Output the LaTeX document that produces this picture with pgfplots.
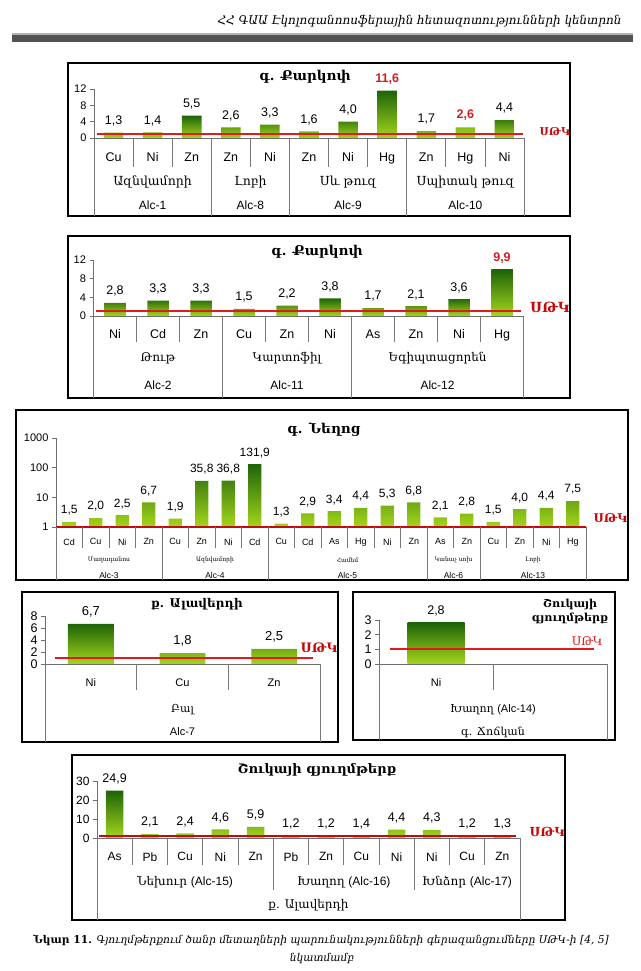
\documentclass[border=0pt]{standalone}
\usepackage{pgfplots}
\pgfplotsset{compat=1.18}
\usepackage{fontspec}
\setmainfont{Liberation Sans}
\newfontfamily\arm{DejaVu Serif}
\definecolor{bartop}{RGB}{30,100,8}
\definecolor{barbot}{RGB}{165,214,28}
\definecolor{mac}{RGB}{222,28,28}
\definecolor{macd}{RGB}{196,10,10}
\definecolor{hl}{RGB}{212,30,30}
\definecolor{axgray}{RGB}{110,110,110}
\definecolor{sepgray}{RGB}{120,120,120}
\newcommand{\fs}[1]{\fontsize{#1}{#1}\selectfont}
\tikzset{sep/.style={draw=sepgray, line width=0.7pt}}
% #1 left, #2 category width, #3 axis y, #4 length, #5 list of boundary indices
\newcommand{\seps}[5]{\foreach \j in {#5}{\draw[sep] ({(#1+\j*#2)*1pt},#3pt) -- ++(0pt,-#4pt);}}
\pgfplotsset{
  panel/.style={
    scale only axis, anchor=south west, clip=false,
    axis x line*=bottom, axis y line*=left,
    axis line style={draw=axgray, line width=0.8pt},
    xtick style={draw=none},
    ytick style={draw=axgray, line width=0.6pt},
    tick align=outside, major tick length=4pt,
    /pgf/number format/assume math mode=true,
    enlargelimits=false,
  },
  bars/.style={ybar, bar width=0.5, bar shift=0pt, draw=none,
    top color=bartop, bottom color=barbot,
    point meta=explicit symbolic, nodes near coords,
    nodes near coords style={anchor=south, yshift=3pt, text=black, font=\fs{#1}}},
  hlbars/.style={bars=#1, nodes near coords style={text=hl, font=\bfseries\fs{#1}}},
}
\begin{document}
\begin{tikzpicture}
\path[use as bounding box] (0pt,0pt) rectangle (640pt,971pt);
% header
\node[anchor=east, font=\arm\itshape\fs{12}] at (625pt,950pt) {ՀՀ ԳԱԱ Էկոլոգանոոսֆերային հետազոտությունների կենտրոն};
\fill[black!30] (12pt,938pt) rectangle (633pt,935.5pt);
\fill[black!68] (12pt,935.5pt) rectangle (633pt,929pt);

% ---------- panel 1
\draw[line width=1.2pt] (68pt,908pt) rectangle (570pt,755pt);
\node[font=\arm\bfseries\fs{13.5}] at (305pt,894pt) {գ. Քարկոփ};
\begin{axis}[panel, at={(94pt,833pt)}, width=430pt, height=49pt,
  xmin=-0.5, xmax=10.5, ymin=0, ymax=12, ytick={0,4,8,12},
  yticklabel style={font=\fs{11}},
  xtick={0,...,10}, xticklabels={Cu,Ni,Zn,Zn,Ni,Zn,Ni,Hg,Zn,Hg,Ni},
  xticklabel style={font=\fs{12.5}, yshift=-7pt}]
\addplot[bars=12.5] table[x=x,y=y,meta=lab,row sep=\\] {
x y lab\\ 0 1.3 1,3\\ 1 1.4 1,4\\ 2 5.5 5,5\\ 3 2.6 2,6\\ 4 3.3 3,3\\ 5 1.6 1,6\\ 6 4.0 4,0\\ 8 1.7 1,7\\ 10 4.4 4,4\\
};
\addplot[hlbars=12.5] table[x=x,y=y,meta=lab,row sep=\\] {
x y lab\\ 7 11.6 11,6\\ 9 2.6 2,6\\
};
\addplot[draw=mac, line width=2.5pt] coordinates {(-0.42,1) (10.47,1)};
\node[anchor=west, text=macd, font=\arm\bfseries\fs{10.8}, xshift=12pt, yshift=2pt] at (axis cs:10.5,1) {ՍԹԿ};
\end{axis}
\seps{94}{39.0909}{833}{29}{1,2,4,6,7,9,10}
\seps{94}{39.0909}{833}{78}{0,3,5,8,11}
\begin{scope}[every node/.style={font=\arm\fs{12.5}}]
\node at (152.6pt,789pt) {Ազնվամորի};
\node at (250.4pt,789pt) {Լոբի};
\node at (348.1pt,789pt) {Սև թուզ};
\node at (465.4pt,789pt) {Սպիտակ թուզ};
\end{scope}
\begin{scope}[every node/.style={font=\fs{12}}]
\node at (152.6pt,766pt) {Alc-1};
\node at (250.4pt,766pt) {Alc-8};
\node at (348.1pt,766pt) {Alc-9};
\node at (465.4pt,766pt) {Alc-10};
\end{scope}

% ---------- panel 2
\draw[line width=1.2pt] (68pt,735pt) rectangle (570pt,573pt);
\node[font=\arm\bfseries\fs{13.5}] at (317pt,719pt) {գ. Քարկոփ};
\begin{axis}[panel, at={(93.5pt,655pt)}, width=430pt, height=56pt,
  xmin=-0.5, xmax=9.5, ymin=0, ymax=12, ytick={0,4,8,12},
  yticklabel style={font=\fs{11}},
  xtick={0,...,9}, xticklabels={Ni,Cd,Zn,Cu,Zn,Ni,As,Zn,Ni,Hg},
  xticklabel style={font=\fs{12.5}, yshift=-6pt}]
\addplot[bars=12.5] table[x=x,y=y,meta=lab,row sep=\\] {
x y lab\\ 0 2.8 2,8\\ 1 3.3 3,3\\ 2 3.3 3,3\\ 3 1.5 1,5\\ 4 2.2 2,2\\ 5 3.8 3,8\\ 6 1.7 1,7\\ 7 2.1 2,1\\ 8 3.6 3,6\\
};
\addplot[hlbars=12.5] table[x=x,y=y,meta=lab,row sep=\\] {
x y lab\\ 9 9.9 9,9\\
};
\addplot[draw=mac, line width=2pt] coordinates {(-0.45,1) (9.45,1)};
\node[anchor=west, text=macd, font=\arm\bfseries\fs{14}, xshift=3pt, yshift=4pt] at (axis cs:9.5,1) {ՍԹԿ};
\end{axis}
\seps{93.5}{43}{655}{26}{1,2,4,5,7,8,9}
\seps{93.5}{43}{655}{82}{0,3,6,10}
\begin{scope}[every node/.style={font=\arm\fs{12}}]
\node at (158pt,613pt) {Թութ};
\node at (287pt,613pt) {Կարտոֆիլ};
\node at (437.5pt,613pt) {Եգիպտացորեն};
\end{scope}
\begin{scope}[every node/.style={font=\fs{12}}]
\node at (158pt,586pt) {Alc-2};
\node at (287pt,586pt) {Alc-11};
\node at (437.5pt,586pt) {Alc-12};
\end{scope}

% ---------- panel 3
\draw[line width=1.2pt] (16pt,561pt) rectangle (628pt,391pt);
\node[font=\arm\bfseries\fs{13.5}] at (324pt,541pt) {գ. Նեղոց};
\begin{axis}[panel, at={(56pt,444pt)}, width=530pt, height=89pt,
  xmin=-0.5, xmax=19.5, ymode=log, ymin=1, ymax=1000, yminorticks=false,
  ytick={1,10,100,1000}, yticklabels={1,10,100,1000},
  yticklabel style={font=\fs{11}},
  xtick={0,...,19}, xticklabels={Cd,Cu,Ni,Zn,Cu,Zn,Ni,Cd,Cu,Cd,As,Hg,Ni,Zn,As,Zn,Cu,Zn,Ni,Hg},
  xticklabel style={font=\fs{9}, yshift=-4pt}]
\addplot[bars=12] table[x=x,y=y,meta=lab,row sep=\\] {
x y lab\\ 0 1.5 1,5\\ 1 2.0 2,0\\ 2 2.5 2,5\\ 3 6.7 6,7\\ 4 1.9 1,9\\ 5 35.8 35,8\\ 6 36.8 36,8\\ 7 131.9 131,9\\
8 1.3 1,3\\ 9 2.9 2,9\\ 10 3.4 3,4\\ 11 4.4 4,4\\ 12 5.3 5,3\\ 13 6.8 6,8\\ 14 2.1 2,1\\ 15 2.8 2,8\\ 16 1.5 1,5\\ 17 4.0 4,0\\ 18 4.4 4,4\\ 19 7.5 7,5\\
};
\addplot[draw=macd, line width=2.5pt] coordinates {(-0.5,1) (19.5,1)};
\node[anchor=west, text=macd, font=\arm\bfseries\fs{12}, xshift=4pt, yshift=9pt] at (axis cs:19.5,1) {ՍԹԿ};
\end{axis}
\seps{56}{26.5}{444}{21}{1,2,3,5,6,7,9,10,11,12,13,15,17,18,19}
\seps{56}{26.5}{444}{53}{0,4,8,14,16,20}
\begin{scope}[every node/.style={font=\arm\fs{6}}]
\node at (109pt,411pt) {Մաղադանոս};
\node at (215pt,411pt) {Ազնվամորի};
\node at (347.5pt,411pt) {Համեմ};
\node at (453.5pt,411pt) {Կանաչ սոխ};
\node at (533pt,411pt) {Լոբի};
\end{scope}
\begin{scope}[every node/.style={font=\fs{8.5}}]
\node at (109pt,396pt) {Alc-3};
\node at (215pt,396pt) {Alc-4};
\node at (347.5pt,396pt) {Alc-5};
\node at (453.5pt,396pt) {Alc-6};
\node at (533pt,396pt) {Alc-13};
\end{scope}

% ---------- panel 4
\draw[line width=1.2pt] (22pt,379pt) rectangle (338pt,229pt);
\node[font=\arm\bfseries\fs{12}] at (197pt,367pt) {ք. Ալավերդի};
\begin{axis}[panel, at={(45pt,307pt)}, width=275pt, height=48pt,
  xmin=-0.5, xmax=2.5, ymin=0, ymax=8, ytick={0,2,4,6,8},
  yticklabel style={font=\fs{12.5}},
  xtick={0,1,2}, xticklabels={Ni,Cu,Zn},
  xticklabel style={font=\fs{11}, yshift=-7pt}]
\addplot[bars=13] table[x=x,y=y,meta=lab,row sep=\\] {
x y lab\\ 0 6.7 6,7\\ 1 1.8 1,8\\ 2 2.5 2,5\\
};
\addplot[draw=mac, line width=2pt] coordinates {(-0.39,1) (2.42,1)};
\node[anchor=base west, text=macd, font=\arm\bfseries\fs{13}, yshift=5pt] at (axis cs:2.25,1) {ՍԹԿ};
\end{axis}
\seps{45}{91.667}{307}{26}{1,2}
\seps{45}{91.667}{307}{78}{0,3}
\node[font=\arm\fs{11}] at (182.5pt,261pt) {Բալ};
\node[font=\fs{11}] at (182.5pt,239pt) {Alc-7};

% ---------- panel 5
\draw[line width=1.2pt] (353pt,379pt) rectangle (615pt,231pt);
\node[font=\arm\bfseries\fs{11}, align=center] at (570pt,360pt) {Շուկայի\\[3pt]գյուղմթերք};
\begin{axis}[panel, at={(379pt,307pt)}, width=228pt, height=44pt,
  xmin=-0.5, xmax=1.5, ymin=0, ymax=3, ytick={0,1,2,3},
  yticklabel style={font=\fs{12.5}},
  xtick={0}, xticklabels={Ni},
  xticklabel style={font=\fs{11}, yshift=-7pt}]
\addplot[bars=12.5] table[x=x,y=y,meta=lab,row sep=\\] {
x y lab\\ 0 2.8 2,8\\
};
\addplot[draw=mac, line width=2pt] coordinates {(-0.40,1) (1.39,1)};
\node[anchor=base west, text=mac, font=\arm\fs{12}, yshift=4pt] at (axis cs:1.16,1) {ՍԹԿ};
\end{axis}
\seps{379}{114}{307}{26}{1}
\seps{379}{114}{307}{76}{0,2}
\node[font=\arm\fs{11}] at (493pt,261pt) {Խաղող \fontspec{Liberation Sans}(Alc-14)};
\node[font=\arm\fs{11}] at (493pt,239pt) {գ. Ճոճկան};

% ---------- panel 6
\draw[line width=1.2pt] (72pt,216pt) rectangle (565pt,51pt);
\node[font=\arm\bfseries\fs{13}] at (317pt,201pt) {Շուկայի գյուղմթերք};
\begin{axis}[panel, at={(97pt,133pt)}, width=423pt, height=57pt,
  xmin=-0.5, xmax=11.5, ymin=0, ymax=30, ytick={0,10,20,30},
  yticklabel style={font=\fs{12}},
  xtick={0,...,11}, xticklabels={As,Pb,Cu,Ni,Zn,Pb,Zn,Cu,Ni,Ni,Cu,Zn},
  xticklabel style={font=\fs{12}, yshift=-7pt}]
\addplot[bars=12.5] table[x=x,y=y,meta=lab,row sep=\\] {
x y lab\\ 0 24.9 24,9\\ 1 2.1 2,1\\ 2 2.4 2,4\\ 3 4.6 4,6\\ 4 5.9 5,9\\ 5 1.2 1,2\\ 6 1.2 1,2\\ 7 1.4 1,4\\ 8 4.4 4,4\\ 9 4.3 4,3\\ 10 1.2 1,2\\ 11 1.3 1,3\\
};
\addplot[draw=macd, line width=2.6pt] coordinates {(-0.45,1) (11.4,1)};
\node[anchor=west, text=macd, font=\arm\bfseries\fs{12.5}, xshift=6pt, yshift=4pt] at (axis cs:11.5,1) {ՍԹԿ};
\end{axis}
\seps{97}{35.25}{133}{27}{1,2,3,4,6,7,8,10,11}
\seps{97}{35.25}{133}{52}{5,9}
\seps{97}{35.25}{133}{82}{0,12}
\begin{scope}[every node/.style={font=\arm\fs{12}}]
\node at (185pt,89pt) {Նեխուր \fontspec{Liberation Sans}(Alc-15)};
\node at (343.75pt,89pt) {Խաղող \fontspec{Liberation Sans}(Alc-16)};
\node at (467pt,89pt) {Խնձոր \fontspec{Liberation Sans}(Alc-17)};
\node at (308.5pt,66pt) {ք. Ալավերդի};
\end{scope}

% caption
\node[font=\arm\fs{10.7}] at (321pt,31pt) {{\bfseries Նկար 11.} {\itshape Գյուղմթերքում ծանր մետաղների պարունակությունների գերազանցումները ՍԹԿ-ի [4, 5]}};
\node[font=\arm\itshape\fs{10.7}] at (322pt,13pt) {նկատմամբ};
\end{tikzpicture}
\end{document}
